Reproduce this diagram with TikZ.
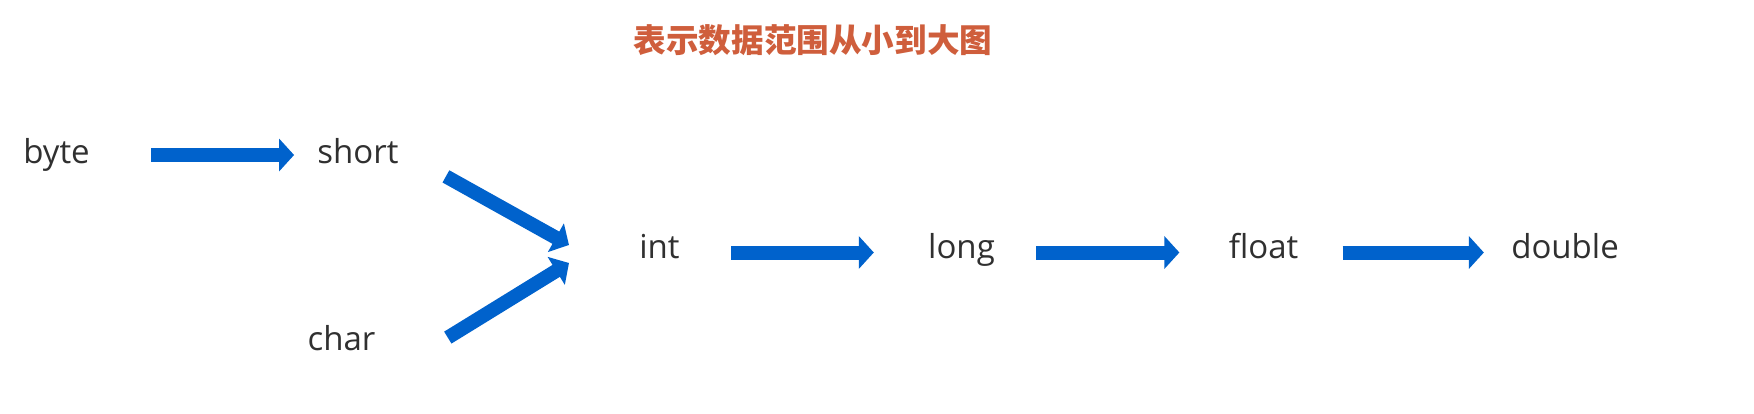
\documentclass[tikz,border=0pt]{standalone}
\usepackage{fontspec}
\setmainfont{Open Sans}
\newfontfamily\cjk{Noto Sans CJK SC}
\usetikzlibrary{arrows.meta,calc}
\definecolor{arrowblue}{RGB}{0,98,204}
\definecolor{titleorange}{RGB}{207,94,60}
\definecolor{labelgray}{RGB}{48,48,48}
\tikzset{
  typelabel/.style={inner sep=0pt, anchor=base, text=labelgray,
    font=\fontsize{16.5pt}{18pt}\selectfont, text height=12.5pt, text depth=4pt},
  bigarrow/.style={draw=arrowblue, line width=7pt, line cap=butt,
    -{Triangle[length=7.5pt,width=16pt]}},
}
\begin{document}
\begin{tikzpicture}[x=0.5pt,y=-0.5pt]
\useasboundingbox[fill=white] (0,0) rectangle (1754,413);
% title
\node[text=titleorange, font=\cjk\bfseries\fontsize{16.3pt}{18pt}\selectfont, inner sep=0pt] (title) at (813,40) {表示数据范围从小到大图};
% type labels
\node[typelabel] (byte)   at (56.5,163) {byte};
\node[typelabel] (short)  at (358,163)  {short};
\node[typelabel] (char)   at (341.5,350) {char};
\node[typelabel] (int)    at (659.5,258) {int};
\node[typelabel] (long)   at (961.5,258) {long};
\node[typelabel] (float)  at (1263.5,258) {float};
\node[typelabel] (double) at (1565,258) {double};
% arrows
\draw[bigarrow] ($(byte.east)+(61,0.5)$) -- ($(short.west)+(-23,0.5)$);
\draw[bigarrow] ($(short.south east)+(47,5)$) -- ($(int.west)+(-70,-4.5)$);
\draw[bigarrow] ($(char.north east)+(72,13)$) -- ($(int.west)+(-70,13.5)$);
\draw[bigarrow] ($(int.east)+(51,3)$) -- ($(long.west)+(-54,3)$);
\draw[bigarrow] ($(long.east)+(41,3)$) -- ($(float.west)+(-49,3)$);
\draw[bigarrow] ($(float.east)+(44,3)$) -- ($(double.west)+(-27,3)$);
\end{tikzpicture}
\end{document}
